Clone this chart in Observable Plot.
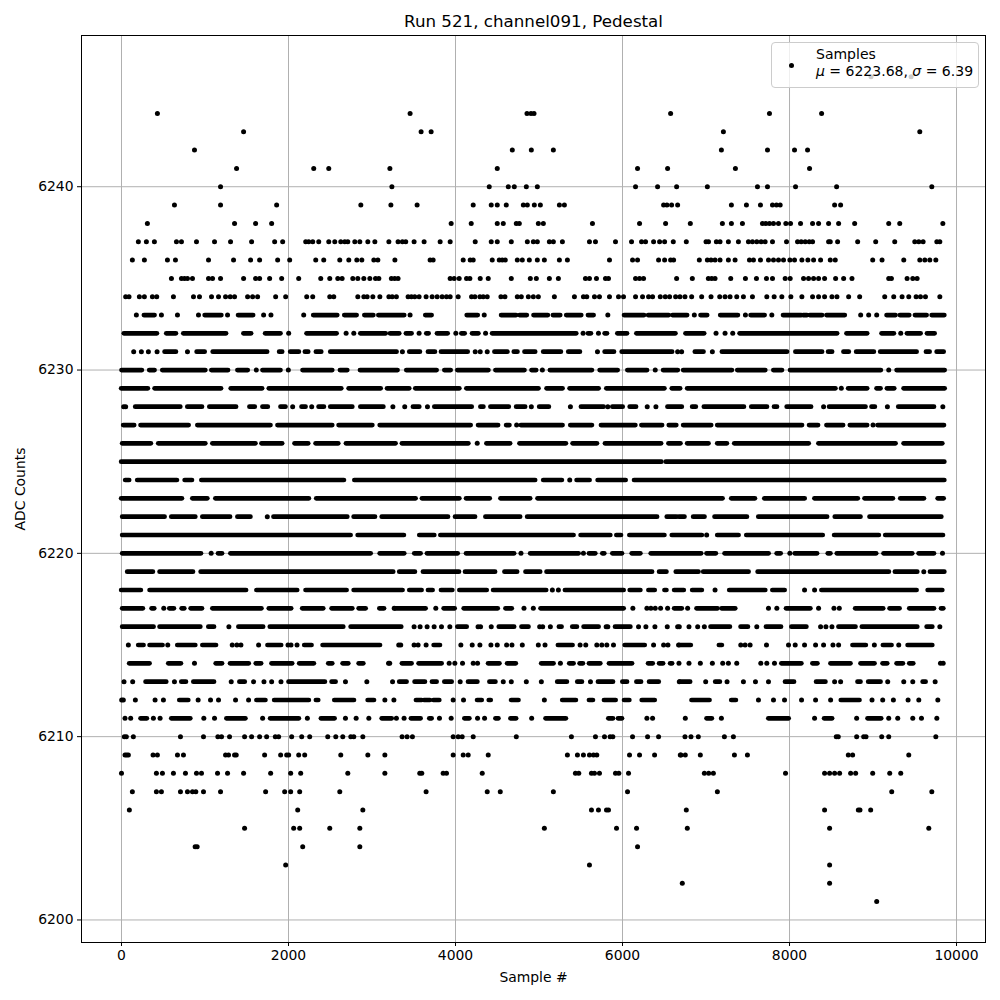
<!DOCTYPE html>
<html><head><meta charset="utf-8">
<script src="https://cdn.jsdelivr.net/npm/d3@7"></script>
<script src="https://cdn.jsdelivr.net/npm/@observablehq/plot@0.6"></script>
<style>
html,body{margin:0;padding:0;background:#fff}
#wrap{position:relative;width:1000px;height:1000px;font-family:"DejaVu Sans",sans-serif;color:#000}
#legend{position:absolute;left:771px;top:42px;width:206px;height:44px;border:1px solid #ccc;border-radius:4px;background:rgba(255,255,255,.8);font-size:14px;line-height:17px;box-sizing:content-box}
#legend .key{position:absolute;left:17px;top:20px;width:5.2px;height:5.2px;border-radius:50%;background:#000}
#legend .lab{position:absolute;left:44px;top:3px;white-space:pre}
</style></head><body>
<div id="wrap"><div id="chart"></div>
<div id="legend"><span class="key"></span><span class="lab" id="lab"></span></div></div>
<script>
const chartTitle="Run 521, channel091, Pedestal", xLabel="Sample #", yLabel="ADC Counts";
const seriesName="Samples", mu="6223.68", sigma="6.39";
const xTicks=[0,2000,4000,6000,8000,10000], yTicks=[6200,6210,6220,6230,6240];
// One list per ADC level. A number is one sample; a pair is a stretch of
// samples packed so tightly on that level that the dots merge into a bar.
const y6246=[8976,9456];
const y6244=[430,3456,4856,4904,4940,6576,7760,8384];
const y6243=[1462,3588,3708,7208,9560];
const y6242=[874,4680,4908,5172,7184,7736,8060,8216];
const y6241=[1378,2302,2482,3214,4500,6180,6540,7352,8240];
const y6240=[1186,3238,4404,4632,4704,4848,4980,6156,6420,6648,7016,7616,7736,8072,8564,9704];
const y6239=[634,1186,1858,2866,3226,3540,4212,4428,4500,4608,4812,4860,4944,5016,5244,5304,6492,6532,6588,6660,7304,7484,7652,7796,7844,7888,8540,8612];
const y6238=[310,1354,1606,1798,3948,4188,4500,4572,4728,4764,4992,5052,5640,6204,6516,6812,7196,7304,7436,7676,7716,7760,7808,7868,7956,8012,8132,8276,8348,8468,8588,8780,9188,9320,9836];
const y6237=[202,298,394,658,718,898,1114,1306,1558,1834,1930,2206,2242,2290,2362,2482,2554,2626,2674,2710,2794,2854,2950,3034,3202,3312,3364,3404,3504,3624,3816,3936,4236,4428,4500,4668,4860,4932,4980,5124,5172,5280,5604,5676,5916,6108,6228,6276,6372,6444,6504,6608,6764,7000,7030,7124,7168,7268,7388,7508,7556,7608,7660,7708,7796,7964,8096,8140,8188,8236,8276,8468,8488,8576,8816,9032,9260,9500,9548,9600,9764,9800];
const y6236=[130,274,550,646,1042,1342,1546,1654,1870,2014,2326,2422,2614,2722,2818,2878,3022,3070,3274,3696,3732,4092,4176,4212,4440,4524,4560,4596,4740,4800,4884,4980,5064,5244,5340,5844,6120,6180,6432,6504,6576,6612,6920,7016,7060,7108,7168,7268,7348,7520,7568,7652,7748,7808,7868,7928,8004,8060,8148,8220,8288,8372,8488,8548,8996,9108,9368,9560,9620,9680,9752];
const y6235=[598,718,754,790,850,1042,1090,1186,1462,1606,1654,1774,1918,2122,2386,2494,2590,2642,2770,2830,2902,2974,3042,3082,3232,3272,3312,3936,3984,4044,4132,4172,4296,4392,4668,4896,4968,5124,5232,5556,5604,5688,5796,5832,6156,6204,6252,6648,6836,7028,7068,7108,7296,7472,7604,7724,7796,7948,8008,8168,8228,8288,8348,8420,8552,8648,8748,9188,9220,9408,9476,9528];
const y6234=[50,90,214,274,370,422,622,862,934,1078,1162,1246,1302,1354,1510,1570,1630,1846,1966,2218,2290,2494,2542,2830,2902,2942,3010,3094,3202,3242,3292,3432,3472,3512,3564,3648,3720,3780,3840,3892,3936,4032,4192,4232,4292,4332,4380,4544,4592,4740,4788,4872,4932,4992,5184,5424,5532,5572,5664,5724,5844,5952,6012,6156,6240,6312,6360,6452,6512,6564,6636,6688,6748,6828,6948,7060,7164,7228,7288,7368,7448,7556,7728,7816,7908,8016,8148,8276,8348,8420,8508,8568,8708,8840,9140,9248,9348,9428,9516,9568,9628,9800];
const y6233=[178,[274,402],478,670,922,[1002,1202],1270,[1402,1582],1702,1790,2182,[2302,2590],[2674,2822],[2914,3022],[3082,3392],3456,[3644,3720],[4140,4272],4344,[4552,4732],[4772,4860],[4940,5112],[5172,5260],[5332,5512],[5592,5660],5824,[6024,6264],[6312,6560],[6604,6780],6860,[6940,7020],[7176,7388],7472,[7540,7708],7788,[7928,8148],[8168,8216],[8248,8396],[8448,8668],8852,8948,9044,[9168,9276],[9328,9440],[9508,9648],[9708,9860]];
const y6232=[[34,430],[542,658],[746,1258],[1466,1558],[1726,1910],2002,[2222,2582],2690,2782,[2866,3170],[3222,3332],[3412,3480],3564,[3656,3684],[3784,3912],4004,[4076,4116],[4204,4280],4360,[4444,5452],5528,[5592,5628],5712,[5792,5820],[5944,6060],[6172,6640],[6760,6984],7120,7228,7320,[7408,8576],[8688,8936],[9108,9256],9332,[9412,9576],[9652,9744]];
const y6231=[146,238,322,426,[522,658],790,[906,1002],[1098,1750],[1894,1930],[2026,2130],[2202,2242],[2334,2398],[2506,3300],3364,[3452,3580],[3676,3760],[3832,4152],4236,4296,4380,[4472,4628],[4704,4748],[4832,4960],[5056,5268],[5356,5496],5700,[5792,5904],[5996,6600],6660,6708,[6872,6976],7076,[7196,7976],[8076,8396],[8468,8516],[8652,8716],[8804,9016],[9092,9528],[9640,9684],[9768,9852]];
const y6230=[[6,250],[338,402],[494,1010],[1082,1282],[1394,1518],1614,[1694,1910],1998,[2174,2530],[2622,2710],[2862,3312],[3416,3780],[3872,3948],[4028,4400],[4484,4832],[4916,4972],5040,[5136,5640],[5732,5948],[6064,6300],6392,[6492,6668],[6732,7316],[7380,7716],[7812,7916],[8012,9100],9188,[9288,9864]];
const y6229=[[2,322],[402,1198],[1314,1690],[1770,2638],[2726,3110],[3186,3452],[3524,4052],[4136,5000],[5096,5288],[5372,5720],[5812,6508],[6596,6696],[6780,8556],8620,[8708,8936],[9048,9096],[9172,9260],[9372,9864]];
const y6228=[26,50,[170,710],[794,970],[1058,1378],[1538,1602],[1694,1758],[1910,1970],2050,[2162,2210],2278,[2366,2430],[2506,2770],[2866,3142],3250,3392,[3496,3572],3664,[3752,4200],[4304,4340],[4424,4644],[4732,4840],4908,[5008,5124],5376,[5508,5780],5824,[5884,6008],[6092,6168],6296,6400,[6544,6716],[6840,6884],[6980,7460],[7548,7736],[7820,7856],[7972,8264],8408,[8480,8916],[8988,9028],9172,[9308,9736],9836];
const y6227=[[26,158],[234,810],[914,1790],[1874,2530],[2606,3010],[3098,4188],[4276,4516],[4612,4652],4732,[4788,5288],[5380,5640],[5748,6160],[6232,6480],[6560,6650],[6732,7068],[7140,8156],[8240,8348],[8448,8648],[8728,8936],9000,[9060,9856]];
const y6226=[[14,358],[446,1010],[1094,1610],[1682,1930],[2078,2242],[2330,2602],[2694,3288],[3364,4160],4260,[4376,4660],[4772,5328],[5408,5700],[5796,6468],[6556,6700],[6780,7036],[7140,7256],[7344,8236],[8352,9276],[9372,9836]];
const y6225=[[2,6472],[6524,9860]];
const y6224=[[50,98],[194,670],[762,850],[962,2670],[2794,4960],[5056,5280],5368,[5456,5612],[5708,6044],[6144,9860]];
const y6223=[[2,730],[854,1034],[1130,2250],[2338,3528],[3604,4052],[4132,4416],[4544,4900],[4988,7204],[7308,7592],[7704,8188],[8304,8824],[8904,9244],[9332,9616],[9780,9852]];
const y6222=[[14,522],[602,890],[974,1306],[1394,1550],1746,[1826,2710],[2786,3042],[3122,3916],[4000,4240],[4364,4780],[4864,6420],[6536,6652],[6680,6748],[6852,6988],[7108,7496],[7632,8456],[8548,8856],[8964,9824]];
const y6221=[[14,2750],[2834,3388],[3572,3752],[3824,5420],[5504,5860],[5932,5988],[6088,6508],[6596,6956],7008,[7140,7396],[7488,8404],[8540,9076],[9152,9844]];
const y6220=[[14,958],1074,[1162,1210],[1310,2990],[3098,3392],[3512,3588],[3664,4032],[4132,4708],4784,[4900,5480],5532,[5604,5680],[5764,5788],[5884,6000],[6116,6220],[6344,6948],[7012,7124],[7228,7756],[7852,7900],8004,[8068,8336],[8464,8496],[8572,9044],[9132,9476],[9552,9736],9832];
const y6219=[[74,382],[462,862],[954,3260],[3332,3520],[3616,4048],[4120,4480],[4592,4744],[4844,5020],[5096,6360],[6444,6532],[6644,6916],[6972,7516],[7624,9196],[9268,9536],9608,[9688,9860]];
const y6218=[[2,238],[342,1498],[1622,2110],[2210,2702],[2786,3372],[3452,3600],[3676,3732],[3832,3968],[4052,4380],[4456,5092],5160,5232,[5316,6020],[6092,6220],[6316,6392],[6508,6532],[6624,6740],[6840,6956],7108,[7284,7716],[7800,7948],8180,8300,[8388,9528],[9660,9836]];
const y6217=[[14,262],[366,398],506,[578,634],[726,758],[834,970],[1094,1682],[1770,2038],[2170,2422],[2522,2770],[2846,2930],[3094,3150],3266,[3276,3648],3764,[3864,3996],[4104,4512],[4604,4680],4820,4932,[5024,6020],6124,6292,6340,6392,6456,6540,[6624,6716],6780,[6892,7144],[7192,7356],7748,7848,[7964,8256],8348,8532,8596,[8792,9128],[9204,9324],[9440,9736],[9820,9848]];
const y6216=[[14,390],[462,950],[1046,1114],1286,[1406,1702],[1782,2662],[2750,3356],3504,3576,3660,3744,3832,3932,[4028,4140],4270,4300,4428,[4524,4708],[4796,4880],5008,5044,5136,[5244,5276],[5404,5460],[5540,5720],5804,5824,[5916,6100],6192,6280,6388,6536,6660,6680,6796,6900,6980,[7060,7292],[7420,7508],7608,[7724,7904],[8028,8208],8372,8436,8508,[8592,8796],[8872,9536],[9648,9716],9800];
const y6215=[82,[206,270],[342,498],554,[674,890],[974,1138],1326,1382,1430,1642,[1754,1918],1994,2030,2102,[2194,2282],[2414,3102],3320,3344,3504,3552,3648,[3744,3820],4064,4200,4292,4424,4500,4612,4676,4800,4992,5072,[5232,5408],5492,5560,5692,5752,5812,5892,[6032,6272],6372,6492,6544,6672,[6680,6824],[7160,7196],7416,7468,7528,7724,7988,8068,8180,8312,8408,8520,8588,[8760,8920],9016,[9124,9228],9308,[9420,9716]];
const y6214=[[98,342],[566,718],874,[1134,1210],[1306,1530],[1614,1678],[1802,2050],[2134,2310],[2482,2530],[2654,2722],[2846,2902],3198,3212,[3364,3480],[3564,3840],3924,3992,4084,4212,4264,[4396,4532],[4624,4728],[5032,5180],5256,[5368,5420],[5492,5532],[5604,5740],[5844,6120],[6312,6368],[6444,6492],[6576,6600],6676,6796,6932,7076,7200,7268,7368,7656,7728,7820,[7908,8148],[8280,8340],[8496,8736],[8856,9024],[9120,9176],[9288,9364],[9440,9488],9808,9840];
const y6213=[30,134,[294,542],634,[722,778],[866,1114],1314,[1418,1482],1582,1706,1798,1910,[2006,2442],[2522,2570],2682,2938,3246,[3332,3420],[3516,3640],[3724,3780],[3872,3960],4056,[4156,4268],[4412,4484],4572,4668,4848,5028,[5224,5340],[5464,5520],5616,[5712,5892],[6004,6060],[6172,6228],[6324,6440],6680,[6692,6816],6996,[7116,7172],7252,7448,7592,7748,[7952,8060],[8324,8436],8540,8612,[8820,8856],[8948,9096],9176,9368,9476,[9600,9636],9744];
const y6212=[2,22,166,402,502,[698,806],918,1066,1162,1366,1522,[1622,1730],[1834,2250],[2334,2362],[2554,2790],[2954,3030],3154,3262,[3532,3600],[3628,3700],[3740,3812],3972,4096,[4264,4320],[4404,4428],[4672,4760],5064,[5284,5448],[5604,5652],[5784,5924],[6024,6088],[6236,6392],[6832,7048],[7308,7364],7628,7808,7940,8144,8312,8492,[8620,8844],8988,9116,9244,9420,9548,9776];
const y6211=[42,110,[234,310],382,462,[602,830],986,1114,[1262,1490],1690,[1786,2130],2226,[2394,2558],2682,2810,2962,[3122,3242],3292,3384,[3472,3588],[3692,3720],3808,3948,[4112,4172],4264,4348,[4484,4520],[4664,4732],4912,[5084,5328],[5836,5892],[5952,6000],6292,6360,6752,[7012,7076],7184,[7752,7996],8300,[8420,8516],8804,[8940,9104],9188,9296,9476,9580,9764];
const y6210=[34,58,142,706,982,1154,1198,1294,1474,1558,1654,1738,1842,1882,2038,2158,2254,2470,2566,2650,2746,2782,2890,3360,3420,3484,3972,4032,4080,4212,4728,5388,5676,5784,5852,5884,6120,6300,6432,6748,6820,6908,7220,7328,8560,8584,8804,8888,8916,9104,9188,9752];
const y6209=[42,62,82,378,430,670,742,1246,1282,1354,1374,1714,1906,1978,2002,2122,2194,2626,2950,3154,3972,4092,4152,4392,5340,5460,5532,5604,5652,5692,6084,6204,6384,6692,6700,6752,6932,7340,7496,8704,8756,9428];
const y6208=[0,418,490,622,766,898,958,1150,1270,1462,1786,2026,2146,2710,3154,3572,3596,3852,3892,4320,5436,5476,5628,5664,5724,5916,5956,6072,6980,7032,7088,7952,8420,8480,8540,8600,8732,8792,8996,9200,9332];
const y6207=[130,418,478,706,790,850,890,982,1186,1726,1954,2026,2134,2614,3648,4380,4536,5172,6060,7136,9224,9704];
const y6206=[94,2110,2890,5628,5712,5808,5832,6764,8420,8824,8844,8972];
const y6205=[1474,2062,2134,2494,2854,5064,5928,6168,6776,8480,9668];
const y6204=[882,906,2170,2854,6180];
const y6203=[1966,5604,8480];
const y6202=[6716,8480];
const y6201=[9044];

const levels=[[6246,y6246],[6244,y6244],[6243,y6243],[6242,y6242],[6241,y6241],[6240,y6240],[6239,y6239],[6238,y6238],[6237,y6237],[6236,y6236],[6235,y6235],[6234,y6234],[6233,y6233],[6232,y6232],[6231,y6231],[6230,y6230],[6229,y6229],[6228,y6228],[6227,y6227],[6226,y6226],[6225,y6225],[6224,y6224],[6223,y6223],[6222,y6222],[6221,y6221],[6220,y6220],[6219,y6219],[6218,y6218],[6217,y6217],[6216,y6216],[6215,y6215],[6214,y6214],[6213,y6213],[6212,y6212],[6211,y6211],[6210,y6210],[6209,y6209],[6208,y6208],[6207,y6207],[6206,y6206],[6205,y6205],[6204,y6204],[6203,y6203],[6202,y6202],[6201,y6201]];
const singles=[], stretches=[];
for(const [y,list] of levels) for(const e of list){
  if(Array.isArray(e)) stretches.push({y,a:e[0],b:e[1]}); else singles.push({y,x:e});
}
const plot=Plot.plot({
  width:1000,height:1000,marginLeft:81,marginRight:15,marginTop:35,marginBottom:58,
  style:{fontFamily:"DejaVu Sans",fontSize:"13.9px",background:"white",color:"black"},
  x:{domain:[-479,10347]},
  y:{domain:[6198.77,6248.25]},
  marks:[
    Plot.gridX(xTicks,{stroke:"#b0b0b0",strokeOpacity:1,strokeWidth:1}),
    Plot.gridY(yTicks,{stroke:"#b0b0b0",strokeOpacity:1,strokeWidth:1}),
    Plot.ruleY(stretches,{y:"y",x1:"a",x2:"b",stroke:"black",strokeWidth:4.7,strokeLinecap:"round"}),
    Plot.dot(singles,{x:"x",y:"y",r:2.5,fill:"black",stroke:"none"}),
    Plot.axisX({ticks:xTicks,tickFormat:"d",tickSize:4,tickPadding:4,label:xLabel,labelAnchor:"center",labelArrow:"none",labelOffset:39}),
    Plot.axisY({ticks:yTicks,tickFormat:"d",tickSize:4,tickPadding:4,label:yLabel,labelAnchor:"center",labelArrow:"none",labelOffset:66}),
    Plot.frame({stroke:"black",strokeWidth:1}),
    Plot.text([chartTitle],{text:d=>d,frameAnchor:"top",lineAnchor:"middle",dy:-14,fontSize:16.7,fill:"black"})
  ]
});
document.getElementById("chart").appendChild(plot);
document.getElementById("lab").innerHTML=seriesName+"<br><i>μ</i> = "+mu+", <i>σ</i> = "+sigma;
</script></body></html>
